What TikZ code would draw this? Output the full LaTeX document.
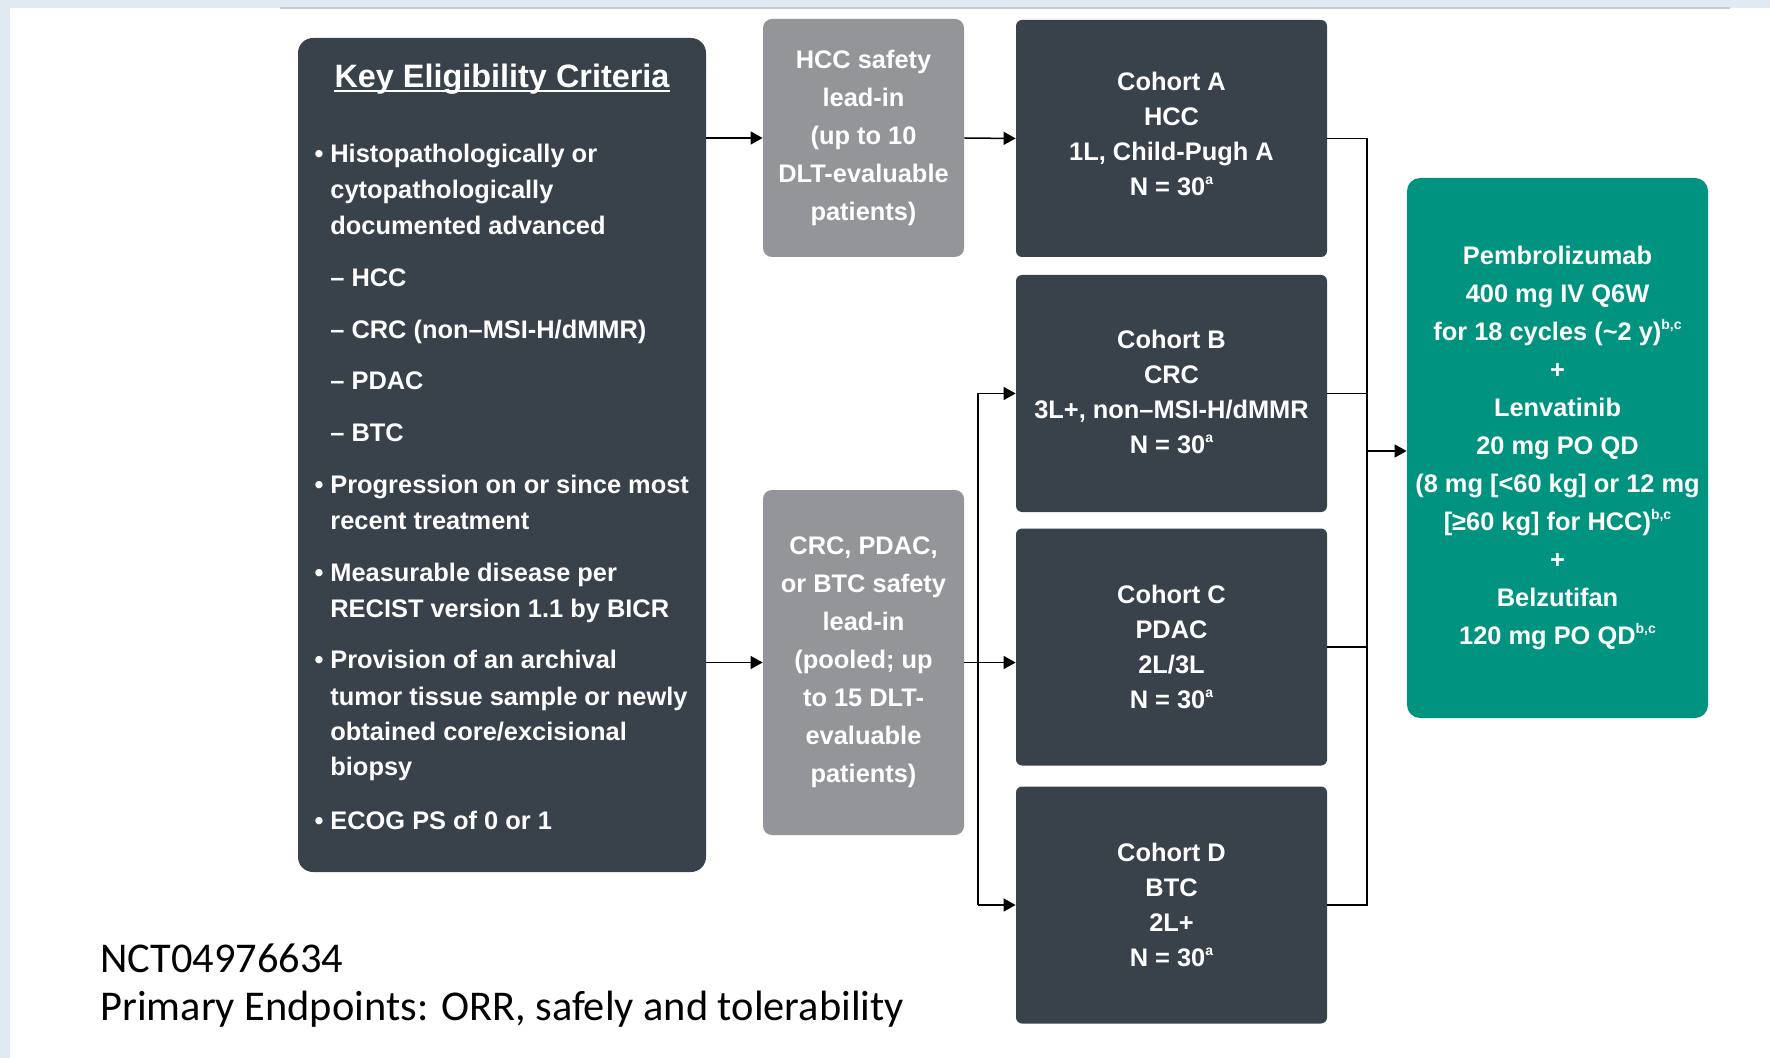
\documentclass[tikz,border=0pt]{standalone}
\usepackage{fontspec}
\setmainfont{Liberation Sans}
\newfontfamily\notefont{Carlito}
\usetikzlibrary{arrows.meta}
\definecolor{slate}{RGB}{57,66,74}
\definecolor{leadgray}{RGB}{147,149,152}
\definecolor{armteal}{RGB}{0,147,128}
\definecolor{framebg}{RGB}{226,234,241}
\definecolor{rulegray}{RGB}{200,204,208}

\newlength\pxu
\setlength\pxu{0.5pt}
\newcommand\itm{\llap{\textbullet\hspace{3.5pt}}}
\newcommand\supnote[1]{\raisebox{0.42em}{\fontsize{7}{7}\selectfont #1}}
% extra depth under the last line, moves a text block up
\newcommand\lift[1]{\rule[-#1]{0pt}{#1}}

\tikzset{
  panel/.style={inner sep=0pt, text=white, align=center},
  keybox/.style={panel, fill=slate, rounded corners=7.5pt},
  cohort/.style={panel, fill=slate, rounded corners=3pt, minimum width=311\pxu, minimum height=237\pxu,
    font=\fontsize{12.7}{17.5}\selectfont\bfseries},
  leadin/.style={panel, fill=leadgray, rounded corners=4.5pt, minimum width=201\pxu,
    font=\fontsize{12.7}{19}\selectfont\bfseries},
  arm/.style={panel, fill=armteal, rounded corners=6.5pt, minimum width=301\pxu, minimum height=540\pxu,
    font=\fontsize{12.7}{19}\selectfont\bfseries},
  crit/.style={inner sep=0pt, text=white, anchor=base west, font=\fontsize{12.7}{18}\selectfont\bfseries},
  note/.style={inner sep=0pt, anchor=base west, font=\notefont\fontsize{21.2}{21.2}\selectfont},
  link/.style={line width=0.75pt},
  arr/.style={link, -{Triangle[length=6pt,width=6.5pt]}},
}

\begin{document}
\begin{tikzpicture}[x=0.5pt,y=-0.5pt]
  \useasboundingbox (0,0) rectangle (1770,1058);
  % slide frame
  \fill[framebg] (0,0) rectangle (1770,8);
  \fill[framebg] (0,0) rectangle (10,1058);
  \draw[rulegray, line width=1pt] (280,8.5) -- (1730,8.5);

  % eligibility criteria
  \node[keybox, minimum width=408\pxu, minimum height=834\pxu] (elig) at (502,455) {};
  \node[inner sep=0pt, text=white, anchor=base, font=\fontsize{16.2}{16.2}\selectfont\bfseries] (eligtitle) at (502,88) {Key Eligibility Criteria};
  \draw[white, line width=1pt] ([yshift=-1.75pt]eligtitle.base west) -- ([yshift=-1.75pt]eligtitle.base east);
  \foreach \yy/\txt [count=\i] in {163/{\itm Histopathologically or}, 199/{cytopathologically},
      235/{documented advanced}, 287/{– HCC}, 339/{– CRC (non–MSI-H/dMMR)}, 390/{– PDAC}, 442/{– BTC},
      494/{\itm Progression on or since most}, 529/{recent treatment},
      581/{\itm Measurable disease per}, 617/{RECIST version 1.1 by BICR},
      668/{\itm Provision of an archival}, 705/{tumor tissue sample or newly},
      740/{obtained core/excisional}, 775/{biopsy}, 829/{\itm ECOG PS of 0 or 1}}
    \node[crit] (crit\i) at (330,\yy) {\txt};

  % safety lead-ins
  \node[leadin, minimum height=238\pxu] (leadHCC) at (863.5,138) {HCC safety\\lead-in\\(up to 10\\DLT-evaluable\\patients)};
  \node[leadin, minimum height=345\pxu] (leadCRC) at (863.5,662.5) {CRC, PDAC,\\or BTC safety\\lead-in\\(pooled; up\\to 15 DLT-\\evaluable\\patients)};

  % cohorts
  \node[cohort] (cohA) at (1171.5,138.5) {Cohort A\\HCC\\1L, Child-Pugh A\\N = 30\supnote{a}\lift{5pt}};
  \node[cohort] (cohB) at (1171.5,393.5) {Cohort B\\CRC\\3L+, non–MSI-H/dMMR\\N = 30\supnote{a}\lift{2pt}};
  \node[cohort] (cohC) at (1171.5,647) {Cohort C\\PDAC\\2L/3L\\N = 30\supnote{a}};
  \node[cohort] (cohD) at (1171.5,905) {Cohort D\\BTC\\2L+\\N = 30\supnote{a}};

  % treatment
  \node[arm] (arm) at (1557.5,448) {Pembrolizumab\\400 mg IV Q6W\\for 18 cycles (\textasciitilde 2 y)\supnote{b,c}\\+\\Lenvatinib\\20 mg PO QD\\(8 mg [<60 kg] or 12 mg\\{}[≥60 kg] for HCC)\supnote{b,c}\\+\\Belzutifan\\120 mg PO QD\supnote{b,c}};

  % connectors
  \draw[arr] (elig.east |- leadHCC.west) -- (leadHCC.west);
  \draw[arr] (leadHCC.east) -- (cohA.west);
  \draw[arr] (elig.east |- leadCRC.west) -- (leadCRC.west);
  \draw[arr] (leadCRC.east) -- (cohC.west |- leadCRC.east);
  \coordinate (split) at (978,662.5);
  \draw[link] (split |- cohB.west) -- (split |- cohD.west);
  \draw[arr] (split |- cohB.west) -- (cohB.west);
  \draw[arr] (split |- cohD.west) -- (cohD.west);
  \coordinate (merge) at (1367,451);
  \draw[link] (cohA.east) -| (merge |- cohD.east) -- (cohD.east);
  \draw[link] (cohB.east) -- (merge |- cohB.east);
  \draw[link] (cohC.east) -- (merge |- cohC.east);
  \draw[arr] (merge) -- (merge -| arm.west);

  % study notes
  \node[note] (trialid) at (100,972) {NCT04976634};
  \node[note] (endpoints) at (100,1020) {Primary Endpoints: ORR, safely and tolerability};
\end{tikzpicture}
\end{document}
